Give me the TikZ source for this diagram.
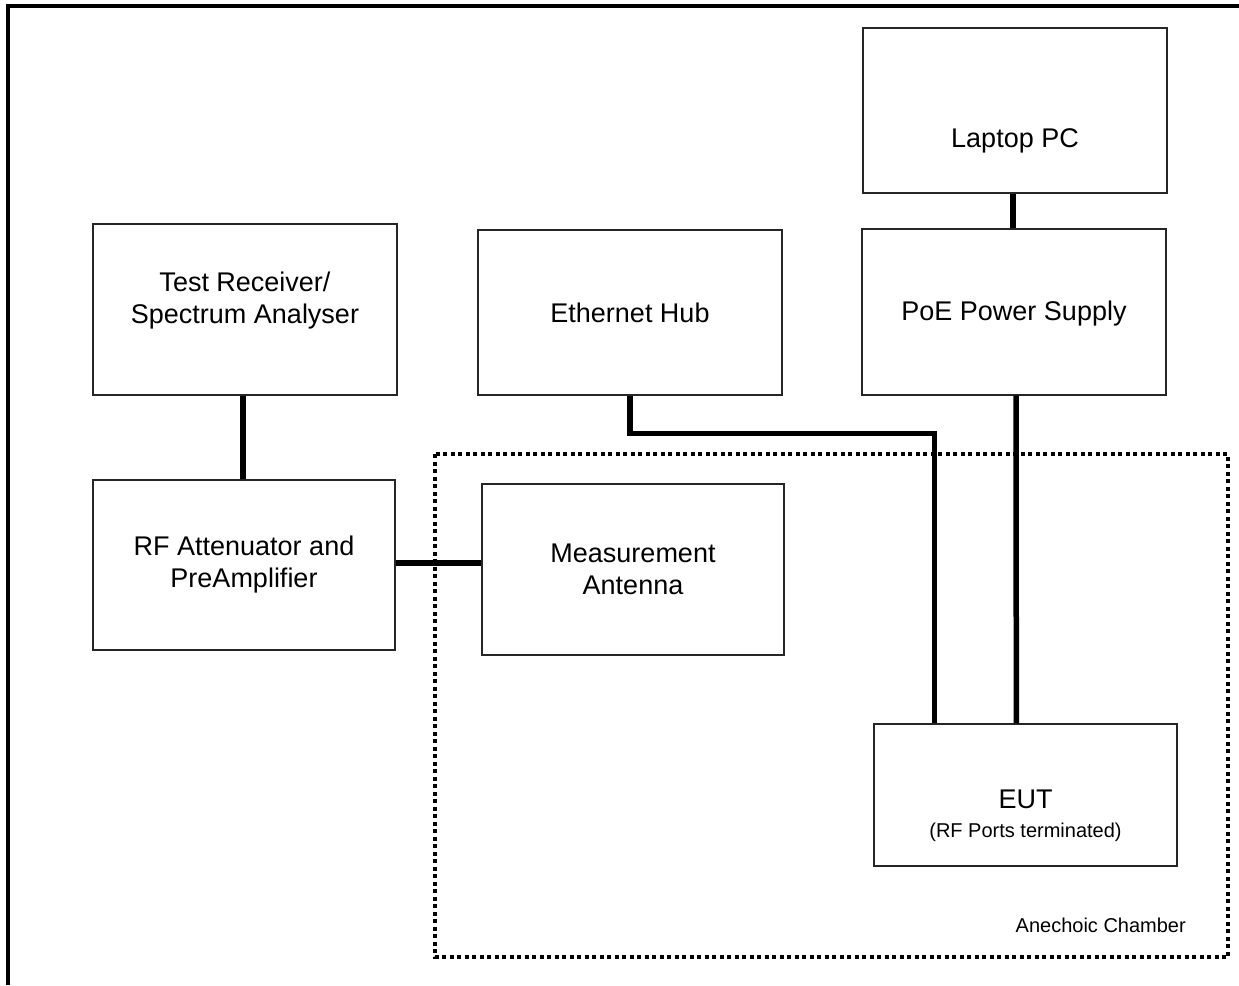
\documentclass[tikz,border=0pt]{standalone}
\usepackage{fontspec}
\setmainfont{Liberation Sans}
\usetikzlibrary{calc}
\begin{document}
\begin{tikzpicture}[x=1pt,y=-1pt,
  box/.style={draw=black!85,line width=1.3pt,inner sep=0pt,align=center,
    font=\fontsize{27}{32}\selectfont},
  txt/.style={align=center,inner sep=0pt,font=\fontsize{27}{32}\selectfont},
  wire/.style={line width=5.5pt,black},
  chamber/.style={line width=4pt,dash pattern=on 4pt off 3.5pt},
  frame/.style={line width=4.5pt}]
\useasboundingbox (0,0) rectangle (1239,985);
% outer frame (cut at right and bottom)
\draw[frame] (8,985) -- (8,6) -- (1239,6);
% anechoic chamber
\draw[chamber] (435,454) rectangle (1228,957);
\node[anchor=east,inner sep=0pt,font=\fontsize{20}{24}\selectfont] (chlabel) at (1186,925) {Anechoic Chamber};
% boxes
\node[box,minimum width=304pt,minimum height=165pt] (lap) at (1015,110.5) {};
\node[txt] (laptxt) at (1015,141) {Laptop PC};
\node[box,minimum width=304pt,minimum height=171pt] (trx) at (245,309.5) {};
\node[txt] (trxtxt) at (245,301) {Test Receiver/\\Spectrum Analyser};
\node[box,minimum width=304pt,minimum height=165pt] (eth) at (630,312.5) {Ethernet Hub};
\node[box,minimum width=304pt,minimum height=166pt] (poe) at (1014,312) {};
\node[txt] (poetxt) at (1014,314) {PoE Power Supply};
\node[box,minimum width=302pt,minimum height=170pt] (rf) at (244,565) {RF Attenuator and\\PreAmplifier};
\node[box,minimum width=302pt,minimum height=171pt] (ant) at (633,569.5) {Measurement\\Antenna};
\node[box,minimum width=303pt,minimum height=142pt] (eut) at (1025.5,795) {};
\node[txt] (euttxt) at (1025.5,816) {EUT\\[-3pt]{\fontsize{20}{23}\selectfont (RF Ports terminated)}};
% connectors
\draw[wire] ($(lap.south)+(-2,0)$) -- ($(poe.north)+(-1,0)$);
\draw[wire] ($(trx.south)+(-2,0)$) -- ($(rf.north)+(-1,0)$);
\draw[wire] ($(rf.east)+(0,-2)$) -- ($(ant.west)+(0,-6.5)$);
\coordinate (ethturn) at ($(eth.south)+(0,38)$);
\coordinate (eutin) at ($(eut.north west)+(61,0)$);
\draw[wire] (eth.south) -- (ethturn) -- (ethturn -| eutin) -- (eutin);
\draw[wire] ($(poe.south)+(2,0)$) -- ($(eut.north west)+(143,0)$);
\end{tikzpicture}
\end{document}
